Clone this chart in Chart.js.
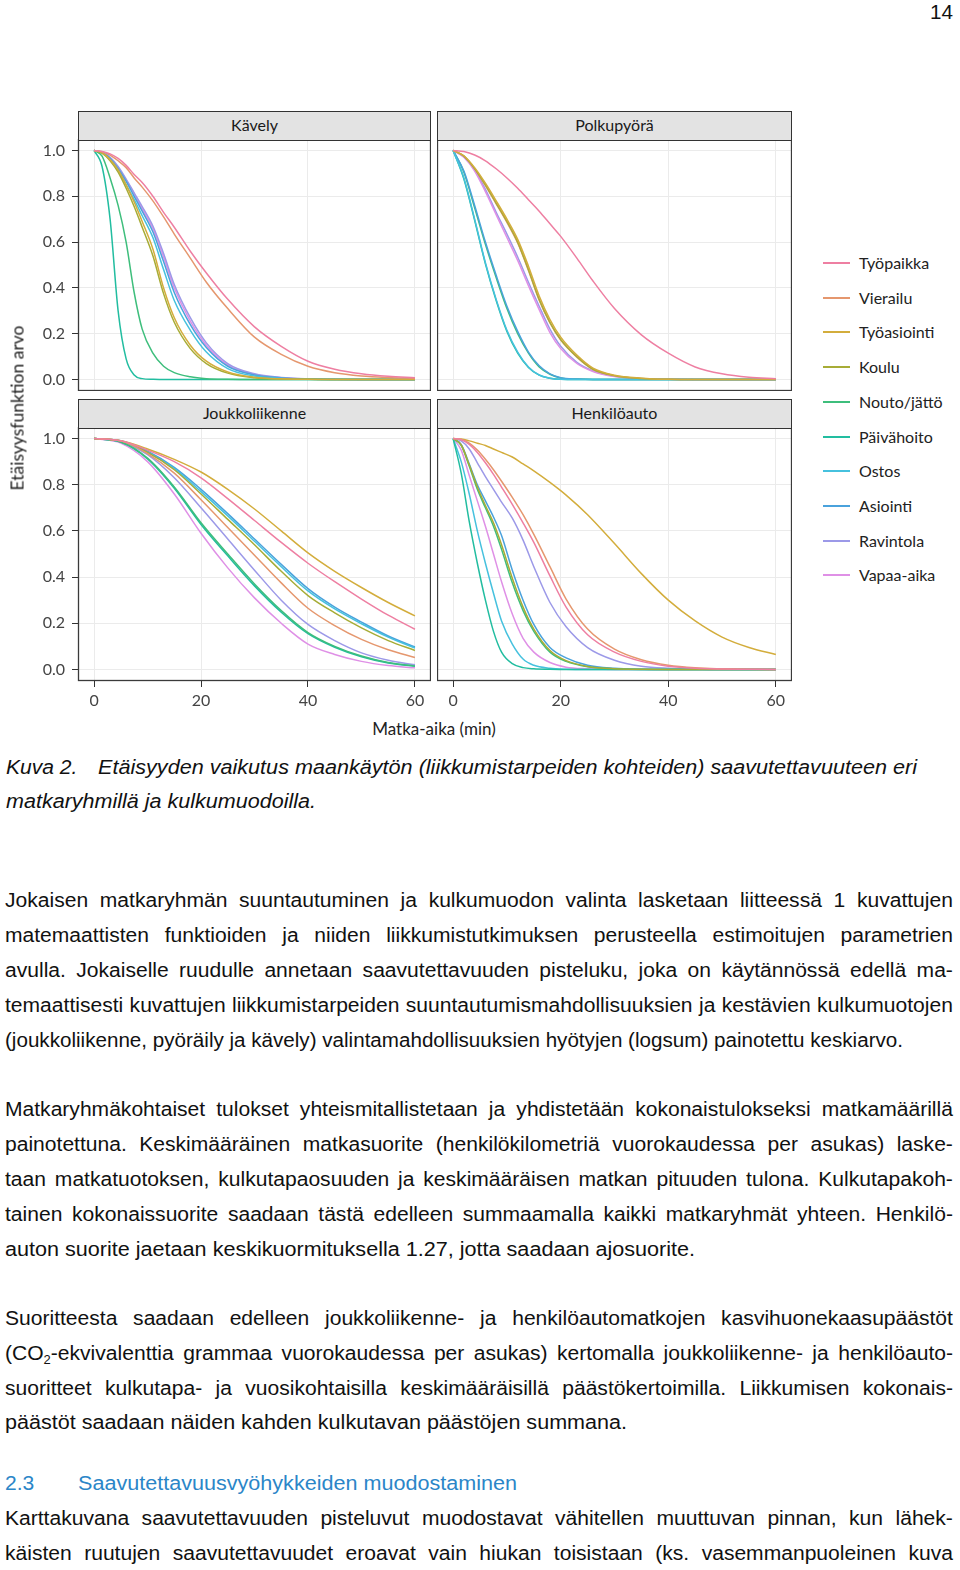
<!DOCTYPE html>
<html><head><meta charset="utf-8">
<script src="https://cdn.jsdelivr.net/npm/chart.js@4.4.0/dist/chart.umd.min.js"></script>
<style>
html,body{margin:0;padding:0;background:#fff;}
#page{position:relative;width:960px;height:1570px;overflow:hidden;font-family:Lato,sans-serif;}
canvas{position:absolute;}
.strip{position:absolute;box-sizing:border-box;background:#e3e3e3;border:1.5px solid #333;font-family:Lato,sans-serif;font-size:16px;color:#1a1a1a;text-align:center;line-height:26px;}
.lab{position:absolute;font-family:Lato,sans-serif;color:#222;white-space:nowrap;}
.doc{position:absolute;font-family:"Liberation Sans",Arial,sans-serif;font-size:19.5px;color:#111;white-space:nowrap;line-height:24px;height:24px;transform-origin:0 50%;}
.doc sub{font-size:12px;vertical-align:-4px;line-height:0;}
.lgl{position:absolute;height:2px;width:27px;}
</style></head>
<body><div id="page"></div>
<script>
// ---------------- DATA ----------------
const categories = ['Työpaikka','Vierailu','Työasiointi','Koulu','Nouto/jättö','Päivähoito','Ostos','Asiointi','Ravintola','Vapaa-aika'];
const panelTitles = ['Kävely','Polkupyörä','Joukkoliikenne','Henkilöauto'];
const xTickValues = [0,20,40,60];
const yTickValues = [0,0.2,0.4,0.6,0.8,1.0];

const kavelyMin = [0,1.5,3,4.5,6,7.5,9,11,13,15,18,21,25,30,35,40,45,50,55,60];
const kavelyValues = [
 [1,0.995,0.985,0.965,0.935,0.895,0.86,0.8,0.73,0.665,0.56,0.465,0.35,0.23,0.145,0.08,0.045,0.025,0.014,0.008],
 [1,0.995,0.98,0.955,0.925,0.88,0.84,0.78,0.71,0.635,0.53,0.425,0.31,0.185,0.11,0.058,0.03,0.016,0.009,0.005],
 [1,0.99,0.96,0.915,0.85,0.775,0.69,0.57,0.4,0.27,0.15,0.08,0.033,0.01,0.003,0.001,0,0,0,0],
 [1,0.988,0.955,0.905,0.835,0.755,0.665,0.54,0.375,0.25,0.135,0.07,0.028,0.008,0.002,0.001,0,0,0,0],
 [1,0.975,0.88,0.76,0.6,0.38,0.22,0.115,0.058,0.03,0.012,0.004,0.001,0,0,0,0,0,0,0],
 [1,0.93,0.7,0.3,0.09,0.02,0.004,0.001,0,0,0,0,0,0,0,0,0,0,0,0],
 [1,0.99,0.96,0.91,0.85,0.785,0.715,0.62,0.48,0.345,0.215,0.12,0.048,0.015,0.005,0.001,0,0,0,0],
 [1,0.99,0.965,0.92,0.865,0.8,0.735,0.645,0.515,0.38,0.24,0.14,0.058,0.02,0.007,0.002,0,0,0,0],
 [1,0.992,0.97,0.93,0.875,0.815,0.755,0.67,0.55,0.415,0.27,0.16,0.07,0.025,0.009,0.003,0.001,0,0,0],
 [1,0.992,0.968,0.925,0.87,0.81,0.745,0.66,0.535,0.4,0.255,0.15,0.064,0.022,0.008,0.002,0.001,0,0,0]
];

const pyoraMin = [0,2,4,6,8,10,12,14,16,18,20,23,26,30,35,40,45,50,55,60];
const pyoraValues = [
 [1,0.995,0.98,0.955,0.92,0.88,0.835,0.785,0.735,0.68,0.625,0.53,0.43,0.31,0.195,0.115,0.055,0.025,0.01,0.004],
 [1,0.975,0.918,0.847,0.767,0.686,0.596,0.476,0.346,0.247,0.172,0.098,0.044,0.016,0.005,0.001,0,0,0,0],
 [1,0.977,0.925,0.857,0.78,0.7,0.612,0.495,0.365,0.262,0.185,0.107,0.05,0.019,0.006,0.001,0,0,0,0],
 [1,0.975,0.92,0.85,0.77,0.69,0.6,0.48,0.35,0.25,0.175,0.1,0.045,0.017,0.005,0.001,0,0,0,0],
 [1,0.905,0.75,0.59,0.445,0.31,0.2,0.115,0.055,0.023,0.007,0.002,0,0,0,0,0,0,0,0],
 [1,0.875,0.695,0.505,0.345,0.21,0.115,0.053,0.019,0.006,0.001,0,0,0,0,0,0,0,0,0],
 [1,0.88,0.7,0.51,0.35,0.215,0.12,0.055,0.02,0.006,0.001,0,0,0,0,0,0,0,0,0],
 [1,0.91,0.76,0.6,0.455,0.32,0.21,0.12,0.06,0.025,0.008,0.002,0,0,0,0,0,0,0,0],
 [1,0.972,0.915,0.83,0.73,0.635,0.535,0.425,0.32,0.22,0.145,0.075,0.038,0.014,0.004,0.001,0,0,0,0],
 [1,0.97,0.91,0.82,0.72,0.62,0.52,0.41,0.305,0.205,0.135,0.07,0.035,0.013,0.004,0.001,0,0,0,0]
];

const joukkoMin = [0,5,10,15,20,25,30,35,40,45,50,55,60];
const joukkoValues = [
 [1,0.99,0.95,0.9,0.83,0.74,0.645,0.55,0.46,0.38,0.305,0.235,0.174],
 [1,0.99,0.935,0.85,0.735,0.615,0.495,0.375,0.265,0.19,0.13,0.085,0.052],
 [1,0.99,0.955,0.91,0.855,0.78,0.695,0.6,0.505,0.425,0.355,0.29,0.232],
 [1,0.99,0.94,0.865,0.76,0.65,0.54,0.425,0.32,0.245,0.18,0.125,0.082],
 [1,0.985,0.915,0.79,0.635,0.5,0.37,0.255,0.16,0.1,0.058,0.03,0.015],
 [1,0.985,0.912,0.785,0.628,0.492,0.362,0.248,0.155,0.096,0.055,0.028,0.014],
 [1,0.99,0.94,0.87,0.77,0.665,0.555,0.445,0.34,0.262,0.198,0.14,0.093],
 [1,0.99,0.945,0.875,0.78,0.675,0.565,0.455,0.35,0.27,0.205,0.145,0.097],
 [1,0.985,0.93,0.83,0.7,0.565,0.43,0.3,0.195,0.125,0.072,0.04,0.02],
 [1,0.98,0.9,0.76,0.59,0.44,0.31,0.2,0.11,0.065,0.035,0.017,0.007]
];

const autoMin = [0,1.5,3,4.5,6,7.5,9,11,13,15,18,21,25,30,35,40,45,50,55,60];
const autoValues = [
 [1,0.995,0.975,0.94,0.895,0.845,0.79,0.715,0.635,0.55,0.405,0.27,0.15,0.075,0.035,0.014,0.005,0.002,0.001,0],
 [1,0.996,0.98,0.95,0.91,0.865,0.815,0.745,0.67,0.585,0.445,0.305,0.175,0.088,0.042,0.018,0.007,0.003,0.001,0],
 [1,0.998,0.99,0.98,0.97,0.955,0.94,0.92,0.89,0.86,0.81,0.755,0.67,0.545,0.415,0.3,0.21,0.14,0.095,0.065],
 [1,0.972,0.885,0.79,0.71,0.635,0.54,0.395,0.27,0.175,0.082,0.038,0.013,0.003,0.001,0,0,0,0,0],
 [1,0.97,0.88,0.78,0.7,0.62,0.52,0.375,0.255,0.165,0.075,0.035,0.012,0.003,0,0,0,0,0,0],
 [1,0.85,0.64,0.46,0.3,0.165,0.075,0.025,0.008,0.003,0.001,0,0,0,0,0,0,0,0,0],
 [1,0.9,0.76,0.6,0.46,0.33,0.21,0.11,0.045,0.018,0.005,0.001,0,0,0,0,0,0,0,0],
 [1,0.975,0.89,0.8,0.73,0.66,0.58,0.43,0.3,0.195,0.095,0.05,0.018,0.005,0.001,0,0,0,0,0],
 [1,0.99,0.955,0.895,0.835,0.78,0.725,0.655,0.56,0.445,0.29,0.185,0.095,0.04,0.014,0.005,0.002,0,0,0],
 [1,0.95,0.84,0.73,0.62,0.5,0.38,0.24,0.135,0.075,0.03,0.01,0.003,0,0,0,0,0,0,0]
];

// ---------------- STYLE / LAYOUT ----------------
const palette = ['#EE7FA2','#E5976E','#D3AD3C','#A7AC36','#3EBE7C','#22BDA0','#46C1DE','#4AA2DC','#9C99E8','#DF90E6'];
const page = document.getElementById('page');
Chart.defaults.font.family = 'Lato';
Chart.defaults.animation = false;

const frame = { id:'frame', afterDraw(c){ const a=c.chartArea, x=c.ctx; x.save(); x.strokeStyle='#3a3a3a'; x.lineWidth=1.3; x.strokeRect(a.left+0.5,a.top+0.5,a.right-a.left-1,a.bottom-a.top-1); x.restore(); } };

function panel(title, minutes, values, box, showX, showY, below) {
  const cv = document.createElement('canvas');
  cv.width = box.w; cv.height = box.h;
  cv.style.left = box.l+'px'; cv.style.top = box.t+'px';
  cv.style.width = box.w+'px'; cv.style.height = box.h+'px';
  page.appendChild(cv);
  const ax = showY ? 58 : 0;
  const st = document.createElement('div');
  st.className = 'strip'; st.textContent = title;
  st.style.left = (box.l+ax)+'px'; st.style.width = (box.w-ax)+'px';
  st.style.top = (box.t-28)+'px'; st.style.height = '29.5px';
  page.appendChild(st);
  const datasets = categories.map((c,i)=>({
    label:c, data:minutes.map((m,k)=>({x:m,y:values[i][k]})),
    borderColor:palette[i], borderWidth:1.5, pointRadius:0, fill:false,
    cubicInterpolationMode:'monotone', order: below.includes(i) ? 20+i : i
  }));
  new Chart(cv, {
    type:'line', data:{datasets},
    plugins:[frame],
    options:{
      responsive:false, animation:false, devicePixelRatio:1,
      layout:{padding:0},
      plugins:{legend:{display:false}, tooltip:{enabled:false}},
      scales:{
        x:{type:'linear', min:-3, max:63,
          afterBuildTicks:s=>{ s.ticks = xTickValues.map(v=>({value:v})); },
          afterFit:s=>{ s.height = showX ? 35 : 0; s.paddingLeft = 0; s.paddingRight = 0; },
          ticks:{display:showX, autoSkip:false, maxRotation:0, padding:4, color:'#444', font:{size:16}, callback:v=>String(v)},
          grid:{color:'#ebebeb', lineWidth:1, drawTicks:showX, tickLength:6, tickColor:'#333'},
          border:{display:false}},
        y:{type:'linear', min:-0.05, max:1.05,
          afterBuildTicks:s=>{ s.ticks = yTickValues.map(v=>({value:v})); },
          afterFit:s=>{ s.width = ax; s.paddingTop = 0; s.paddingBottom = 0; },
          ticks:{display:showY, autoSkip:false, padding:7, color:'#444', font:{size:16}, callback:v=>v.toFixed(1)},
          grid:{color:'#ebebeb', lineWidth:1, drawTicks:showY, tickLength:6, tickColor:'#333'},
          border:{display:false}}
      }
    }
  });
}

panel(panelTitles[0], kavelyMin, kavelyValues, {l:20,t:139,w:411,h:252}, false, true, []);
panel(panelTitles[1], pyoraMin, pyoraValues, {l:437,t:139,w:355,h:252}, false, false, [1,4,5,8]);
panel(panelTitles[2], joukkoMin, joukkoValues, {l:20,t:427,w:411,h:289}, true, true, []);
panel(panelTitles[3], autoMin, autoValues, {l:437,t:427,w:355,h:289}, true, false, []);

// axis titles
const yt = document.createElement('div'); yt.className='lab'; yt.textContent='Etäisyysfunktion arvo';
yt.style.fontSize='17.5px'; yt.style.left='17px'; yt.style.top='408px';
yt.style.transform='translate(-50%,-50%) rotate(-90deg)'; page.appendChild(yt);
const xt = document.createElement('div'); xt.className='lab'; xt.textContent='Matka-aika (min)';
xt.style.fontSize='17px'; xt.style.left='434px'; xt.style.top='728px';
xt.style.transform='translate(-50%,-50%)'; page.appendChild(xt);

// legend
categories.forEach((c,i)=>{
  const y = 263 + i*34.7;
  const ln = document.createElement('div'); ln.className='lgl'; ln.style.background=palette[i];
  ln.style.left='823px'; ln.style.top=(y-1)+'px'; page.appendChild(ln);
  const tx = document.createElement('div'); tx.className='lab'; tx.textContent=c;
  tx.style.fontSize='16px'; tx.style.left='859px'; tx.style.top=(y-10)+'px'; page.appendChild(tx);
});

// ---------------- DOCUMENT TEXT ----------------
const docLines = [
 {t:'14', x:930, y:12, w:23},
 {t:'Kuva 2.', x:6, y:767, it:1},
 {t:'Etäisyyden vaikutus maankäytön (liikkumistarpeiden kohteiden) saavutettavuuteen eri', x:98, y:767, w:819, it:1},
 {t:'matkaryhmillä ja kulkumuodoilla.', x:6, y:801, w:310, it:1},
 {t:'Jokaisen matkaryhmän suuntautuminen ja kulkumuodon valinta lasketaan liitteessä 1 kuvattujen', x:5, y:900, w:948, j:1},
 {t:'matemaattisten funktioiden ja niiden liikkumistutkimuksen perusteella estimoitujen parametrien', x:5, y:935, w:948, j:1},
 {t:'avulla. Jokaiselle ruudulle annetaan saavutettavuuden pisteluku, joka on käytännössä edellä ma-', x:5, y:970, w:948, j:1},
 {t:'temaattisesti kuvattujen liikkumistarpeiden suuntautumismahdollisuuksien ja kestävien kulkumuotojen', x:5, y:1005, w:948, j:1},
 {t:'(joukkoliikenne, pyöräily ja kävely) valintamahdollisuuksien hyötyjen (logsum) painotettu keskiarvo.', x:5, y:1040, w:898},
 {t:'Matkaryhmäkohtaiset tulokset yhteismitallistetaan ja yhdistetään kokonaistulokseksi matkamäärillä', x:5, y:1109, w:948, j:1},
 {t:'painotettuna. Keskimääräinen matkasuorite (henkilökilometriä vuorokaudessa per asukas) laske-', x:5, y:1144, w:948, j:1},
 {t:'taan matkatuotoksen, kulkutapaosuuden ja keskimääräisen matkan pituuden tulona. Kulkutapakoh-', x:5, y:1179, w:948, j:1},
 {t:'tainen kokonaissuorite saadaan tästä edelleen summaamalla kaikki matkaryhmät yhteen. Henkilö-', x:5, y:1214, w:948, j:1},
 {t:'auton suorite jaetaan keskikuormituksella 1.27, jotta saadaan ajosuorite.', x:5, y:1249, w:690},
 {t:'Suoritteesta saadaan edelleen joukkoliikenne- ja henkilöautomatkojen kasvihuonekaasupäästöt', x:5, y:1318, w:948, j:1},
 {t:'(CO<sub>2</sub>-ekvivalenttia grammaa vuorokaudessa per asukas) kertomalla joukkoliikenne- ja henkilöauto-', x:5, y:1353, w:948, j:1},
 {t:'suoritteet kulkutapa- ja vuosikohtaisilla keskimääräisillä päästökertoimilla. Liikkumisen kokonais-', x:5, y:1388, w:948, j:1},
 {t:'päästöt saadaan näiden kahden kulkutavan päästöjen summana.', x:5, y:1422, w:622},
 {t:'2.3', x:5, y:1483, c:'#2b86c8'},
 {t:'Saavutettavuusvyöhykkeiden muodostaminen', x:78, y:1483, w:439, c:'#2b86c8'},
 {t:'Karttakuvana saavutettavuuden pisteluvut muodostavat vähitellen muuttuvan pinnan, kun lähek-', x:5, y:1518, w:948, j:1},
 {t:'käisten ruutujen saavutettavuudet eroavat vain hiukan toisistaan (ks. vasemmanpuoleinen kuva', x:5, y:1553, w:948, j:1}
];
const stretch = 1.08;
docLines.forEach(L=>{
  const d = document.createElement('div'); d.className='doc';
  d.style.left = L.x+'px'; d.style.top = (L.y-12)+'px';
  if (L.it) d.style.fontStyle = 'italic';
  if (L.c) d.style.color = L.c;
  page.appendChild(d);
  if (L.j) {
    d.style.display = 'flex'; d.style.justifyContent = 'space-between';
    const words = L.t.split(' ');
    const spans = words.map(w=>{ const s=document.createElement('span'); s.innerHTML=w; d.appendChild(s); return s; });
    let sum = 0; spans.forEach(s=>{ sum += s.getBoundingClientRect().width; });
    const need = sum + 5*(words.length-1);
    const k = Math.min(stretch, L.w/need);
    d.style.width = (L.w/k)+'px'; d.style.transform = 'scaleX('+k+')';
  } else {
    d.innerHTML = L.t;
    if (L.w) { const nat = d.getBoundingClientRect().width; d.style.transform = 'scaleX('+(L.w/nat)+')'; }
    else d.style.transform = 'scaleX('+stretch+')';
  }
});
</script>
</body></html>
